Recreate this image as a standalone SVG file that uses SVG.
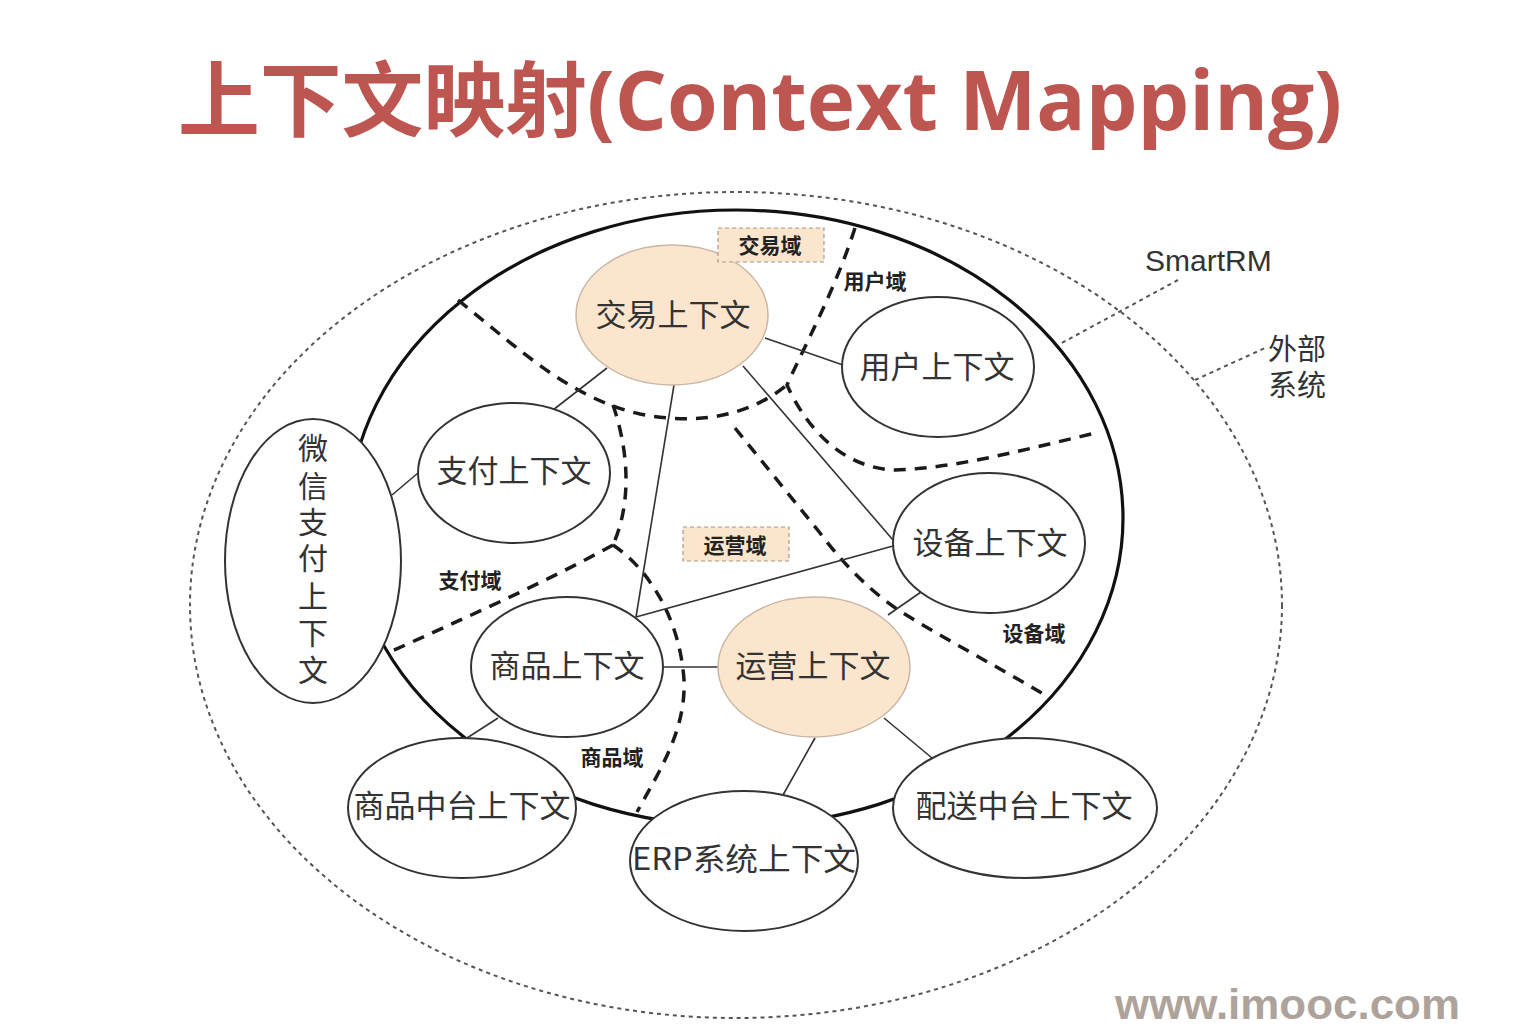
<svg xmlns="http://www.w3.org/2000/svg" width="1516" height="1024" viewBox="0 0 1516 1024">
<style>
.title{font-family:"Open Sans","Noto Sans CJK SC",sans-serif;font-weight:700;font-size:82px;fill:#bd5550}
.node{fill:#fff;stroke:#333;stroke-width:2}
.hot{fill:#fce5cd;stroke:#c9b6a4;stroke-width:1.5}
.t{font-family:"Noto Sans CJK SC","Noto Sans",sans-serif;font-size:31px;fill:#333;text-anchor:middle}
.v{font-family:"Noto Sans CJK SC","Noto Sans",sans-serif;font-size:30px;fill:#333;text-anchor:middle}
.dom{font-family:"Noto Sans CJK SC","Noto Sans",sans-serif;font-size:21px;font-weight:700;fill:#222;text-anchor:middle}
.lbl{fill:#fce5cd;stroke:#a89888;stroke-width:1.2;stroke-dasharray:4 3}
.link{stroke:#333;stroke-width:1.6;fill:none}
.bound{stroke:#1a1a1a;stroke-width:3.5;fill:none;stroke-dasharray:12 9}
.dot{stroke:#555;stroke-width:2;fill:none;stroke-dasharray:4 4}
.side{font-family:"Noto Sans CJK SC","Noto Sans",sans-serif;font-size:29px;fill:#333}
</style>
<rect width="1516" height="1024" fill="#fff"/>
<text class="title" x="178" y="130" textLength="1164" lengthAdjust="spacingAndGlyphs">上下文映射(Context Mapping)</text>

<g id="external-boundary">
<ellipse class="dot" cx="736" cy="605" rx="546" ry="413"/>
</g>
<g id="smartrm-boundary">
<ellipse cx="736" cy="518" rx="387" ry="308" fill="none" stroke="#111" stroke-width="3.2"/>
</g>

<g id="domain-boundaries">
<path class="bound" d="M855,228 C835,290 805,345 787,385 C805,425 840,468 895,470 C960,468 1030,448 1100,432"/>
<path class="bound" d="M458,300 C520,350 570,398 640,414 C700,426 750,415 787,385"/>
<path class="bound" d="M613,405 C625,440 635,495 613,545"/>
<path class="bound" d="M613,545 C540,585 460,620 390,652"/>
<path class="bound" d="M613,545 C650,570 680,620 684,680 C686,730 660,770 637,812"/>
<path class="bound" d="M735,428 L820,533 C840,560 870,592 903,613 C950,642 1000,668 1045,695"/>
</g>

<g id="connectors">
<line class="link" x1="765" y1="338" x2="843" y2="365"/>
<line class="link" x1="607" y1="368" x2="553" y2="410"/>
<line class="link" x1="674" y1="385" x2="636" y2="617"/>
<line class="link" x1="743" y1="366" x2="893" y2="540"/>
<line class="link" x1="418" y1="473" x2="392" y2="495"/>
<line class="link" x1="636" y1="617" x2="893" y2="546"/>
<line class="link" x1="663" y1="667" x2="718" y2="667"/>
<line class="link" x1="498" y1="718" x2="467" y2="738"/>
<line class="link" x1="888" y1="615" x2="921" y2="592"/>
<line class="link" x1="815" y1="738" x2="783" y2="795"/>
<line class="link" x1="884" y1="718" x2="932" y2="758"/>
<line class="dot" x1="1178" y1="280" x2="1058" y2="345"/>
<line class="dot" x1="1195" y1="380" x2="1265" y2="348"/>
</g>

<g id="trade-ctx"><ellipse class="hot" cx="672" cy="315" rx="96" ry="70"/><text class="t" x="673" y="326">交易上下文</text></g>
<g id="user-ctx"><ellipse class="node" cx="938" cy="367" rx="96" ry="70"/><text class="t" x="937" y="378">用户上下文</text></g>
<g id="pay-ctx"><ellipse class="node" cx="514" cy="473" rx="96" ry="70"/><text class="t" x="514" y="482">支付上下文</text></g>
<g id="device-ctx"><ellipse class="node" cx="989" cy="543" rx="96" ry="70"/><text class="t" x="990" y="554">设备上下文</text></g>
<g id="product-ctx"><ellipse class="node" cx="567" cy="667" rx="96" ry="70"/><text class="t" x="567" y="677">商品上下文</text></g>
<g id="ops-ctx"><ellipse class="hot" cx="814" cy="667" rx="96" ry="70"/><text class="t" x="813" y="677">运营上下文</text></g>
<g id="wechat-ctx"><ellipse class="node" cx="313" cy="561" rx="88" ry="142"/>
<text class="v" x="313"><tspan x="313" y="459">微</tspan><tspan x="313" y="497">信</tspan><tspan x="313" y="533">支</tspan><tspan x="313" y="569">付</tspan><tspan x="313" y="607">上</tspan><tspan x="313" y="644">下</tspan><tspan x="313" y="681">文</tspan></text></g>
<g id="product-mid-ctx"><ellipse class="node" cx="462" cy="808" rx="114" ry="70"/><text class="t" x="462" y="817">商品中台上下文</text></g>
<g id="erp-ctx"><ellipse class="node" cx="744" cy="861" rx="114" ry="70"/><text class="t" x="744" y="870" textLength="224" lengthAdjust="spacingAndGlyphs">ERP系统上下文</text></g>
<g id="delivery-ctx"><ellipse class="node" cx="1025" cy="808" rx="132" ry="70"/><text class="t" x="1024" y="817">配送中台上下文</text></g>

<g id="domain-labels">
<rect class="lbl" x="718" y="228" width="106" height="34"/>
<text class="dom" x="770" y="253">交易域</text>
<text class="dom" x="875" y="289">用户域</text>
<text class="dom" x="470" y="588">支付域</text>
<rect class="lbl" x="683" y="527" width="106" height="34"/>
<text class="dom" x="735" y="553">运营域</text>
<text class="dom" x="1034" y="641">设备域</text>
<text class="dom" x="612" y="765">商品域</text>
</g>

<g id="side-labels">
<text x="1145" y="271" font-family="Liberation Sans, Arial, sans-serif" font-size="30" fill="#333">SmartRM</text>
<text class="side" x="1268" y="360">外部</text>
<text class="side" x="1268" y="396">系统</text>
</g>

<text x="1115" y="1019" font-family="Liberation Sans, Arial, sans-serif" font-weight="700" font-size="42" fill="#aea39b" textLength="345" lengthAdjust="spacingAndGlyphs">www.imooc.com</text>
</svg>
